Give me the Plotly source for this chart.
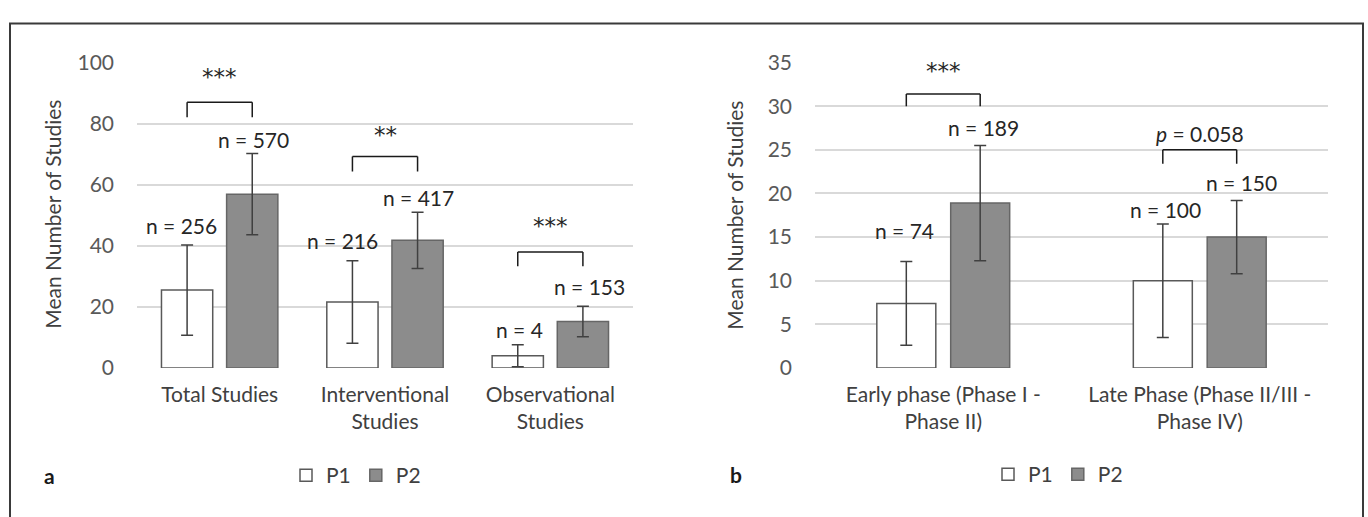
import plotly.graph_objects as go

# ---------------- data ----------------
cats_a = ["Total Studies", "Interventional<br>Studies", "Observational<br>Studies"]
p1_a = [25.5, 21.6, 4.0]
p1_a_err = [14.8, 13.5, 3.6]
p2_a = [56.9, 41.8, 15.2]
p2_a_err = [13.3, 9.2, 5.0]
n_p1_a = ["n = 256", "n = 216", "n = 4"]
n_p2_a = ["n = 570", "n = 417", "n = 153"]
n_p1_a_y = [46.5, 41.6, 12.5]
n_p2_a_y = [74.9, 55.8, 26.6]
sig_a = ["***", "**", "***"]
sig_a_y = [93.0, 73.9, 44.2]
bracket_a_top = [87.0, 69.2, 38.0]
bracket_a_end = [82.1, 64.3, 33.3]

cats_b = ["Early phase (Phase I -<br>Phase II)", "Late Phase (Phase II/III -<br>Phase IV)"]
p1_b = [7.4, 10.0]
p1_b_err = [4.8, 6.5]
p2_b = [18.9, 15.0]
p2_b_err = [6.6, 4.2]
n_p1_b = ["n = 74", "n = 100"]
n_p2_b = ["n = 189", "n = 150"]
n_p1_b_y = [15.8, 18.2]
n_p2_b_y = [27.5, 21.3]
sig_b = ["***", "<i>p</i> = 0.058"]
sig_b_y = [33.2, 26.9]
bracket_b_top = [31.4, 25.0]
bracket_b_end = [30.0, 23.4]

series_names = ["P1", "P2"]
yticks_a = [0, 20, 40, 60, 80, 100]
yticks_b = [0, 5, 10, 15, 20, 25, 30, 35]

# ---------------- style ----------------
W, H = 1368, 517
FONT = "Lato"
FS = 21
TXT = "#262626"
GRID = "#d9d9d9"
P1_FILL, P1_LINE = "#ffffff", "#595959"
P2_FILL, P2_LINE = "#8c8c8c", "#666666"
ERR = "#404040"


def px(x):
    return x / W


def py(y):
    return 1 - y / H


# bar geometry in category units
wa, offa = 0.31, 0.197
wb, offb = 0.23, 0.144

fig = go.Figure()


def add_bars(cats, p1, e1, p2, e2, w, off, xa, ya, leg):
    fig.add_trace(go.Bar(
        x=cats, y=p1, name=series_names[0], width=w, offset=-off - w / 2,
        marker=dict(color=P1_FILL, line=dict(color=P1_LINE, width=1.5)),
        error_y=dict(type="data", array=e1, color=ERR, thickness=1.5, width=6),
        xaxis=xa, yaxis=ya, legend=leg, hoverinfo="skip"))
    fig.add_trace(go.Bar(
        x=cats, y=p2, name=series_names[1], width=w, offset=off - w / 2,
        marker=dict(color=P2_FILL, line=dict(color=P2_LINE, width=1.5)),
        error_y=dict(type="data", array=e2, color=ERR, thickness=1.5, width=6),
        xaxis=xa, yaxis=ya, legend=leg, hoverinfo="skip"))


add_bars(cats_a, p1_a, p1_a_err, p2_a, p2_a_err, wa, offa, "x", "y", "legend")
add_bars(cats_b, p1_b, p1_b_err, p2_b, p2_b_err, wb, offb, "x2", "y2", "legend2")

shapes = []
annotations = []


def add_brackets(n, off, top, end, sig, sig_y, xr, yr):
    for i in range(n):
        xl, xr_ = i - off, i + off
        lc = dict(color="#1a1a1a", width=1.5)
        shapes.append(dict(type="line", xref=xr, yref=yr, x0=xl, x1=xl, y0=end[i], y1=top[i], line=lc))
        shapes.append(dict(type="line", xref=xr, yref=yr, x0=xl, x1=xr_, y0=top[i], y1=top[i], line=lc))
        shapes.append(dict(type="line", xref=xr, yref=yr, x0=xr_, x1=xr_, y0=end[i], y1=top[i], line=lc))
        is_star = sig[i].startswith("*")
        annotations.append(dict(xref=xr, yref=yr, x=i, y=sig_y[i], text=sig[i], showarrow=False,
                                font=dict(family="DejaVu Sans" if is_star else FONT,
                                          size=23 if is_star else FS, color=TXT),
                                yshift=7 if is_star else 0,
                                yanchor="middle"))


def add_nlabels(labels, ys, xpos, xr, yr, shifts):
    for i, (t, y) in enumerate(zip(labels, ys)):
        annotations.append(dict(xref=xr, yref=yr, x=i + xpos, y=y, text=t, showarrow=False,
                                xshift=shifts[i],
                                font=dict(family=FONT, size=FS, color=TXT), yanchor="middle"))


add_brackets(3, offa, bracket_a_top, bracket_a_end, sig_a, sig_a_y, "x", "y")
add_brackets(2, offb, bracket_b_top, bracket_b_end, sig_b, sig_b_y, "x2", "y2")
add_nlabels(n_p1_a, n_p1_a_y, -offa, "x", "y", [-6, -10, 2])
add_nlabels(n_p2_a, n_p2_a_y, offa, "x", "y", [1, 1, 7])
add_nlabels(n_p1_b, n_p1_b_y, -offb, "x2", "y2", [-2, 3])
add_nlabels(n_p2_b, n_p2_b_y, offb, "x2", "y2", [3, 5])

# y-axis titles
for xc in (53, 735):
    annotations.append(dict(xref="paper", yref="paper", x=px(xc), y=py(211), text="Mean Number of Studies",
                            textangle=-90, showarrow=False, xanchor="center", yanchor="middle",
                            font=dict(family=FONT, size=FS, color="#404040")))
# panel letters
annotations.append(dict(xref="paper", yref="paper", x=px(49), y=py(485), text="<b>a</b>", showarrow=False,
                        xanchor="center", yanchor="middle", font=dict(family=FONT, size=FS, color="#1a1a1a")))
annotations.append(dict(xref="paper", yref="paper", x=px(736), y=py(484), text="<b>b</b>", showarrow=False,
                        xanchor="center", yanchor="middle", font=dict(family=FONT, size=FS, color="#1a1a1a")))

# frame
shapes.append(dict(type="rect", xref="paper", yref="paper", x0=px(10), x1=px(1363), y0=-0.2, y1=py(10),
                   line=dict(color="#3a3a3a", width=2), layer="below"))

yd = [py(372), py(51)]
axis_common = dict(showgrid=True, gridcolor=GRID, gridwidth=1.5, zeroline=False, showline=False,
                   ticks="", tickfont=dict(family=FONT, size=FS, color="#595959"))
xaxis_common = dict(showgrid=False, zeroline=False, showline=False, ticks="",
                    tickfont=dict(family=FONT, size=FS, color="#404040"), ticklabelstandoff=12)

legend_common = dict(orientation="h", yanchor="middle", xanchor="center", itemwidth=30,
                     font=dict(family=FONT, size=FS, color="#404040"), bgcolor="rgba(0,0,0,0)",
                     itemclick=False, itemdoubleclick=False)

fig.update_layout(
    width=W, height=H, margin=dict(l=0, r=0, t=0, b=0),
    paper_bgcolor="white", plot_bgcolor="white", barmode="overlay",
    xaxis=dict(domain=[px(137), px(633)], anchor="y", **xaxis_common),
    yaxis=dict(domain=yd, anchor="x", range=[0, 100], tickvals=yticks_a, ticklabelstandoff=22, **axis_common),
    xaxis2=dict(domain=[px(815), px(1328)], anchor="y2", **xaxis_common),
    yaxis2=dict(domain=yd, anchor="x2", range=[0, 35], tickvals=yticks_b, ticklabelstandoff=22, **axis_common),
    legend=dict(x=px(356), y=py(485), **legend_common),
    legend2=dict(x=px(1058), y=py(484), **legend_common),
    shapes=shapes, annotations=annotations, showlegend=True,
)

fig.write_html("out.html")
